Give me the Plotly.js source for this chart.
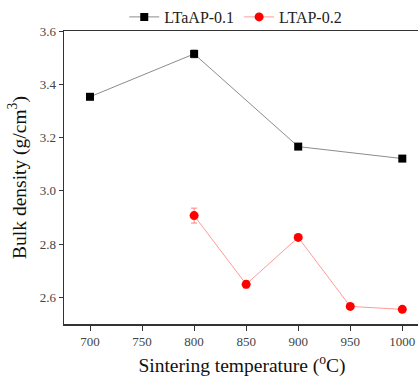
<!DOCTYPE html>
<html><head><meta charset="utf-8">
<script src="https://cdn.plot.ly/plotly-3.0.1.min.js"></script>
<style>html,body{margin:0;padding:0;overflow:hidden;background:#fff;width:418px;height:377px}</style>
</head><body><div id="chart" style="width:436px;height:377px"></div>
<script>
var tempsA = [700, 800, 900, 1000];
var densA = [3.353, 3.514, 3.166, 3.121];
var errA = [0.003, 0.015, 0.004, 0.004];
var tempsB = [800, 850, 900, 950, 1000];
var densB = [2.907, 2.649, 2.825, 2.566, 2.555];
var errB = [0.028, 0.014, 0.006, 0.004, 0.004];
var xTicks = [700, 750, 800, 850, 900, 950, 1000];
var yTicks = [2.6, 2.8, 3.0, 3.2, 3.4, 3.6];

var serif = '"Liberation Serif", "Times New Roman", serif';
var traces = [
  {x: tempsA, y: densA, name: 'LTaAP-0.1', type: 'scatter', mode: 'lines+markers',
   line: {color: '#8c8c8c', width: 1}, marker: {symbol: 'square', size: 8, color: '#000'},
   error_y: {type: 'data', array: errA, visible: true, color: '#aaaaaa', thickness: 1, width: 3}},
  {x: tempsB, y: densB, name: 'LTAP-0.2', type: 'scatter', mode: 'lines+markers',
   line: {color: '#ff9a9a', width: 1}, marker: {symbol: 'circle', size: 9, color: '#ff0000'},
   error_y: {type: 'data', array: errB, visible: true, color: '#ff8080', thickness: 1, width: 3}}
];
var layout = {
  width: 436, height: 377,
  margin: {l: 64, r: 16, t: 31, b: 53, autoexpand: false},
  paper_bgcolor: '#fff', plot_bgcolor: '#fff',
  font: {family: serif, color: '#333'},
  showlegend: true,
  legend: {orientation: 'h', xref: 'container', yref: 'container', x: 0.285, xanchor: 'left',
           y: 1.0, yanchor: 'top',
           font: {family: serif, size: 16, color: '#222'}, bgcolor: 'rgba(0,0,0,0)'},
  xaxis: {range: [675, 1017], tickvals: xTicks, ticktext: xTicks.map(String),
          showline: true, linecolor: '#333', linewidth: 1.5, mirror: true,
          ticks: 'outside', ticklen: 5, tickcolor: '#333', showgrid: false, zeroline: false,
          tickfont: {family: serif, size: 13, color: '#444'},
          title: {text: 'Sintering temperature (<sup>o</sup>C)', font: {family: serif, size: 19.5, color: '#111'}, standoff: 10}},
  yaxis: {range: [2.5, 3.6], tickvals: yTicks, ticktext: ['2.6','2.8','3.0','3.2','3.4','3.6'],
          showline: true, linecolor: '#333', linewidth: 1.5, mirror: true,
          ticks: 'outside', ticklen: 4, tickcolor: '#333', showgrid: false, zeroline: false,
          tickfont: {family: serif, size: 13, color: '#444'},
          title: {text: 'Bulk density (g/cm<sup>3</sup>)', font: {family: serif, size: 19.5, color: '#111'}, standoff: 8}}
};
Plotly.newPlot('chart', traces, layout, {displayModeBar: false, staticPlot: true});
</script></body></html>
